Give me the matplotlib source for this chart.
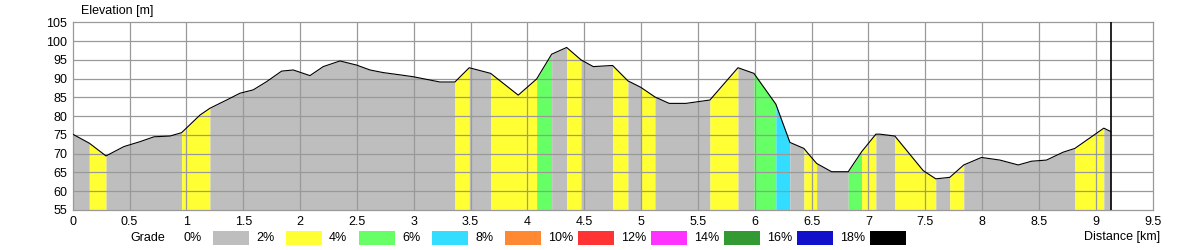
import numpy as np
import matplotlib
matplotlib.use("Agg")
import matplotlib.pyplot as plt
from matplotlib.patches import Rectangle

# profile vertices (km, m)
dist = [0, 0.146, 0.293, 0.451, 0.592, 0.715, 0.856, 0.958, 1.12, 1.207, 1.354, 1.471,
        1.588, 1.706, 1.838, 1.94, 2.087, 2.204, 2.351, 2.498, 2.615, 2.732, 2.879, 2.996,
        3.23, 3.362, 3.488, 3.676, 3.919, 4.081, 4.213, 4.345, 4.471, 4.579, 4.749, 4.884,
        4.996, 5.122, 5.247, 5.394, 5.605, 5.852, 5.992, 6.185, 6.309, 6.432, 6.47, 6.544,
        6.675, 6.822, 6.939, 7.065, 7.1, 7.232, 7.481, 7.592, 7.715, 7.838, 7.994, 8.156,
        8.317, 8.435, 8.566, 8.712, 8.815, 9.07, 9.131]
elev = [75.2, 72.8, 69.4, 71.9, 73.2, 74.5, 74.7, 75.6, 80.3, 82.1, 84.3, 86.1,
        87.0, 89.2, 92.0, 92.3, 90.8, 93.2, 94.7, 93.6, 92.3, 91.6, 91.0, 90.5,
        89.1, 89.1, 92.9, 91.4, 85.6, 89.9, 96.5, 98.3, 95.0, 93.2, 93.5, 89.4,
        87.7, 85.1, 83.4, 83.4, 84.3, 92.9, 91.4, 83.2, 73.0, 71.4, 70.0, 67.4,
        65.2, 65.2, 70.5, 75.2, 75.2, 74.7, 65.5, 63.3, 63.7, 67.0, 69.0, 68.3,
        67.0, 68.0, 68.3, 70.4, 71.4, 76.8, 75.9]

# grade bands: edges (km) and grade class (0 = 0-2%, 1 = 2-4%, ...)
band_edges = [0, 0.146, 0.293, 0.958, 1.207, 3.362, 3.488, 3.676, 4.081, 4.213, 4.345,
              4.471, 4.749, 4.884, 4.996, 5.122, 5.605, 5.852, 5.992, 6.185, 6.308, 6.432,
              6.544, 6.822, 6.939, 7.065, 7.232, 7.592, 7.715, 7.838, 8.815, 9.07, 9.131]
band_grade = [0, 1, 0, 1, 0, 1, 0, 1, 2, 0, 1, 0, 1, 0, 1, 0, 1, 0, 2, 3, 0, 1,
              0, 2, 1, 0, 1, 0, 1, 0, 1, 0]

grade_labels = ["0%", "2%", "4%", "6%", "8%", "10%", "12%", "14%", "16%", "18%"]
grade_colors = ["#bebebe", "#ffff33", "#66ff66", "#33ddff", "#ff8833",
                "#ff3333", "#ff33ff", "#339933", "#1111cc", "#000000"]

plt.rcParams["font.family"] = ["Liberation Sans", "DejaVu Sans"]
fs = 9

W, H = 1200, 250
fig = plt.figure(figsize=(12, 2.5), dpi=100)
ax = fig.add_axes([72.7 / W, 40 / H, 1080 / W, 187.7 / H])

ymin, ymax = 55, 105
d = np.array(dist)
e = np.array(elev)

# coloured fill, one band at a time
for i, g in enumerate(band_grade):
    a, b = band_edges[i], band_edges[i + 1]
    inner = d[(d > a) & (d < b)]
    xs = np.concatenate([[a], inner, [b]])
    ys = np.interp(xs, d, e)
    ax.fill_between(xs, ymin, ys, color=grade_colors[g], linewidth=0, antialiased=False)

ax.set_xlim(0, 9.5)
ax.set_ylim(ymin, ymax)
ax.set_xticks(np.arange(0, 9.51, 0.5))
ax.set_xticklabels([f"{v:g}" for v in np.arange(0, 9.51, 0.5)])
ax.set_yticks(np.arange(55, 106, 5))
ax.tick_params(length=0, pad=4, labelsize=fs)
for s in ax.spines.values():
    s.set_color("#999999")
    s.set_linewidth(0.9)

# grid lines on top of the fill
for gx in np.arange(0.5, 9.5, 0.5):
    ax.axvline(gx, color="#999999", linewidth=0.9, zorder=3)
for gy in np.arange(60, 105, 5):
    ax.axhline(gy, color="#999999", linewidth=0.9, zorder=3)

ax.plot(d, e, color="black", linewidth=0.8, zorder=4)
ax.axvline(d[-1], color="black", linewidth=1.2, zorder=4)

fig.text(81 / W, 1 - 11 / H, "Elevation [m]", ha="left", va="center", fontsize=fs)
fig.text(1160 / W, 1 - 237 / H, "Distance [km]", ha="right", va="center", fontsize=fs)

# legend row
fig.text(130 / W, 1 - 238 / H, "Grade", ha="left", va="center", fontsize=fs)
for k, (lab, col) in enumerate(zip(grade_labels, grade_colors)):
    lx = 183 + 73 * k
    bx = 213 + 73 * k
    fig.text(lx / W, 1 - 238 / H, lab, ha="left", va="center", fontsize=fs)
    fig.patches.append(Rectangle((bx / W, 1 - 245 / H), 36 / W, 14 / H,
                                 transform=fig.transFigure, facecolor=col,
                                 edgecolor="none", figure=fig))

fig.savefig("out.png", dpi=100)
